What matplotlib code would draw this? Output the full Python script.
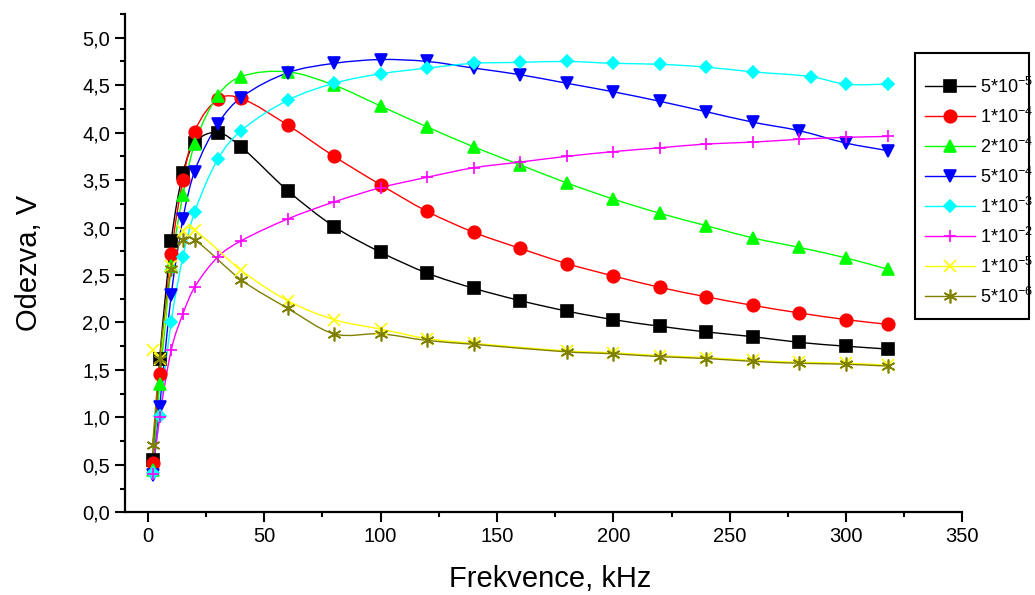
import matplotlib
matplotlib.use("Agg")
import matplotlib.pyplot as plt
import numpy as np
from matplotlib.path import Path
from matplotlib.patches import PathPatch, Rectangle
from matplotlib.lines import Line2D
from matplotlib.ticker import MultipleLocator, FuncFormatter

plt.rcParams['font.family'] = ['Liberation Sans', 'DejaVu Sans']
plt.rcParams['mathtext.fontset'] = 'custom'
plt.rcParams['mathtext.rm'] = 'Liberation Sans'

# frequencies (kHz)
f_main = [2, 5, 10, 15, 20, 30, 40, 60, 80, 100, 120, 140, 160, 180, 200,
          220, 240, 260, 280, 300, 318]
f_cyan = [2, 5, 10, 15, 20, 30, 40, 60, 80, 100, 120, 140, 160, 180, 200,
          220, 240, 260, 285, 300, 318]
f_low = [2, 5, 10, 15, 20, 40, 60, 80, 100, 120, 140, 180, 200,
         220, 240, 260, 280, 300, 318]

v_5e5 = [0.55, 1.61, 2.86, 3.57, 3.89, 4.00, 3.85, 3.39, 3.01, 2.74, 2.52, 2.36,
         2.23, 2.12, 2.03, 1.96, 1.90, 1.85, 1.79, 1.75, 1.72]
v_1e4 = [0.52, 1.46, 2.72, 3.50, 4.01, 4.35, 4.36, 4.08, 3.75, 3.45, 3.17, 2.95,
         2.78, 2.62, 2.49, 2.37, 2.27, 2.18, 2.10, 2.03, 1.98]
v_2e4 = [0.45, 1.35, 2.59, 3.34, 3.88, 4.39, 4.59, 4.64, 4.50, 4.28, 4.06, 3.85,
         3.66, 3.47, 3.30, 3.15, 3.02, 2.89, 2.79, 2.68, 2.56]
v_5e4 = [0.39, 1.11, 2.29, 3.09, 3.59, 4.09, 4.37, 4.63, 4.73, 4.77, 4.75, 4.68,
         4.61, 4.52, 4.43, 4.33, 4.22, 4.11, 4.02, 3.89, 3.81]
v_1e3 = [0.41, 1.01, 2.01, 2.69, 3.16, 3.72, 4.02, 4.34, 4.52, 4.62, 4.68, 4.73,
         4.74, 4.75, 4.73, 4.72, 4.69, 4.64, 4.59, 4.51, 4.51]
v_1e2 = [0.40, 1.00, 1.71, 2.09, 2.37, 2.69, 2.86, 3.09, 3.27, 3.42, 3.53, 3.63,
         3.69, 3.75, 3.80, 3.84, 3.88, 3.90, 3.93, 3.95, 3.96]
v_1e5 = [1.71, 1.62, 2.60, 2.96, 2.97, 2.55, 2.23, 2.03, 1.93, 1.83, 1.78, 1.70,
         1.68, 1.65, 1.63, 1.60, 1.58, 1.57, 1.55]
v_5e6 = [0.71, 1.61, 2.56, 2.87, 2.87, 2.45, 2.15, 1.88, 1.88, 1.81, 1.77, 1.69,
         1.67, 1.64, 1.62, 1.59, 1.57, 1.56, 1.54]

labels = ['5*10$^{-5}$', '1*10$^{-4}$', '2*10$^{-4}$', '5*10$^{-4}$',
          '1*10$^{-3}$', '1*10$^{-2}$', '1*10$^{-5}$', '5*10$^{-6}$']
series = [(f_main, v_5e5), (f_main, v_1e4), (f_main, v_2e4), (f_main, v_5e4),
          (f_cyan, v_1e3), (f_main, v_1e2), (f_low, v_1e5), (f_low, v_5e6)]
colors = ['#000000', '#FF0000', '#00FF00', '#0000FF', '#00FFFF', '#FF00FF',
          '#FFFF00', '#808000']
markers = ['s', 'o', '^', 'v', 'D', '+', 'x', (6, 2, 0)]
msizes = [8, 9, 9, 9, 6.5, 9, 9, 10]


def spline_path(x, y):
    # cubic hermite through the points, drawn as bezier segments
    x = np.asarray(x, float)
    y = np.asarray(y, float)
    n = len(x)
    m = np.empty(n)
    m[0] = (y[1] - y[0]) / (x[1] - x[0])
    m[-1] = (y[-1] - y[-2]) / (x[-1] - x[-2])
    m[1:-1] = (y[2:] - y[:-2]) / (x[2:] - x[:-2])
    verts = [(x[0], y[0])]
    codes = [Path.MOVETO]
    for i in range(n - 1):
        dx = x[i + 1] - x[i]
        verts += [(x[i] + dx / 3, y[i] + m[i] * dx / 3),
                  (x[i + 1] - dx / 3, y[i + 1] - m[i + 1] * dx / 3),
                  (x[i + 1], y[i + 1])]
        codes += [Path.CURVE4] * 3
    return Path(verts, codes)


fig = plt.figure(figsize=(10.35, 5.95), dpi=100)
ax = fig.add_axes([0.1205, 0.139, 0.8093, 0.8375])

handles = []
for (fx, vy), c, mk, ms, lab in zip(series, colors, markers, msizes, labels):
    ax.add_patch(PathPatch(spline_path(fx, vy), facecolor='none', edgecolor=c, lw=1.0))
    ax.plot(fx, vy, linestyle='none', marker=mk, markersize=ms, color=c,
            markeredgecolor=c, markeredgewidth=1.2)
    handles.append(Line2D([], [], color=c, lw=1.0, marker=mk, markersize=ms,
                          markeredgecolor=c, markeredgewidth=1.2, label=lab))

ax.set_xlim(-10, 350)
ax.set_ylim(0, 5.25)
ax.spines['top'].set_visible(False)
ax.spines['right'].set_visible(False)
ax.spines['left'].set_linewidth(1.6)
ax.spines['bottom'].set_linewidth(1.6)

ax.xaxis.set_major_locator(MultipleLocator(50))
ax.xaxis.set_minor_locator(MultipleLocator(25))
ax.yaxis.set_major_locator(MultipleLocator(0.5))
ax.yaxis.set_minor_locator(MultipleLocator(0.25))
ax.yaxis.set_major_formatter(FuncFormatter(lambda v, p: f'{v:.1f}'.replace('.', ',')))
ax.tick_params(which='major', direction='out', length=7, width=1.5, labelsize=14.5)
ax.tick_params(which='minor', direction='out', length=3.5, width=1.5)

ax.set_xlabel('Frekvence, kHz', fontsize=21)
ax.set_ylabel('Odezva, V', fontsize=21)
ax.xaxis.set_label_coords(0.508, -0.105)
ax.yaxis.set_label_coords(-0.097, 0.5)

leg = fig.legend(handles=handles, loc='center left', bbox_to_anchor=(925 / 1035, 0.678),
                 fontsize=13, frameon=False, handlelength=2.75,
                 handletextpad=0.3, labelspacing=0.55, borderpad=0,
                 borderaxespad=0)
# legend frame
fig.add_artist(Rectangle((915 / 1035, 1 - 319 / 595), 114 / 1035, 266 / 595,
                         transform=fig.transFigure, fill=False, edgecolor='black',
                         linewidth=1.5))

fig.savefig('out.png', dpi=100)
